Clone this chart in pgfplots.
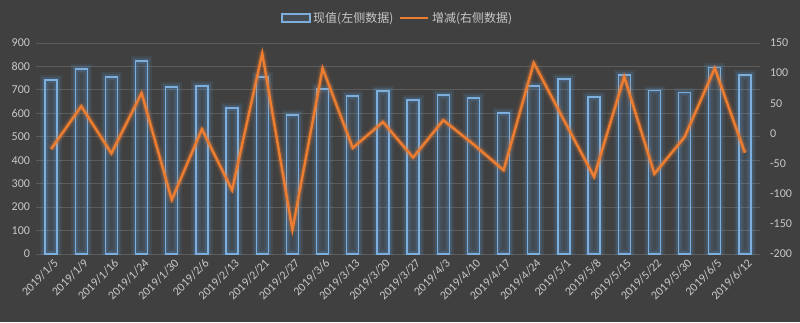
\documentclass[border=0pt]{standalone}
\usepackage{pgfplots}
\pgfplotsset{compat=1.18}
\usepackage{fontspec}
\setmainfont{Carlito}
\newfontfamily\cjk{Noto Sans CJK SC}
\definecolor{bg}{HTML}{404040}
\definecolor{txt}{HTML}{C8C8C8}
\definecolor{gridc}{HTML}{5C5C5C}
\definecolor{barc}{HTML}{5B9BD5}
\definecolor{linec}{HTML}{ED7D31}
\begin{document}
\begin{tikzpicture}
\fill[bg] (0,0) rectangle (600pt,241.5pt);
\pgfplotsset{
  common/.style={
    scale only axis, width=543pt, height=158.25pt,
    at={(27pt,51pt)}, anchor=south west,
    xmin=-0.5, xmax=23.5,
    axis line style={draw=none},
    major tick length=0pt,
    tick label style={font=\fontsize{9pt}{10pt}\selectfont, text=txt},
    /pgf/number format/assume math mode=true,
  }
}
\begin{axis}[common,
  ymin=0, ymax=900, ytick={0,100,...,900},
  ymajorgrids, grid style={gridc, line width=0.6pt},
  xtick={0,...,23},
  xticklabels={2019/1/5,2019/1/9,2019/1/16,2019/1/24,2019/1/30,2019/2/6,2019/2/13,2019/2/21,2019/2/27,2019/3/6,2019/3/13,2019/3/20,2019/3/27,2019/4/3,2019/4/10,2019/4/17,2019/4/24,2019/5/1,2019/5/8,2019/5/15,2019/5/22,2019/5/30,2019/6/5,2019/6/12},
  xticklabel style={rotate=45, anchor=north east, inner sep=1pt, yshift=-2pt},
  yticklabel style={xshift=-1pt},
]
\pgfplotstableread{
x v
0 742
1 789
2 755
3 823
4 712
5 717
6 623
7 755
8 593
9 704
10 674
11 695
12 657
13 678
14 666
15 602
16 717
17 747
18 670
19 764
20 697
21 688
22 796
23 764
}\bars
\addplot[ybar, bar width=9pt, bar shift=0pt, draw=barc, draw opacity=0.10, line width=7pt, fill=none] table[x=x,y=v]{\bars};
\addplot[ybar, bar width=9pt, bar shift=0pt, draw=barc, draw opacity=0.18, line width=4pt, fill=none] table[x=x,y=v]{\bars};
\addplot[ybar, bar width=9pt, bar shift=0pt, draw=barc!80!white, line width=1.1pt, fill=barc, fill opacity=0.10] table[x=x,y=v]{\bars};
\end{axis}
\begin{axis}[common,
  ymin=-200, ymax=150, ytick={-200,-150,...,150},
  axis y line*=right,
  xtick=\empty,
  yticklabel style={xshift=4pt},
  legend style={at={(0.5,1)}, anchor=center, yshift=18.75pt, draw=none, fill=none,
    text=txt, font=\cjk\fontsize{9pt}{10pt}\selectfont, legend columns=2,
    /tikz/every even column/.append style={column sep=2pt}, inner sep=0pt},
  legend cell align=left,
]
\addlegendimage{legend image code/.code={\draw[draw=barc!80!white, line width=1pt, fill=barc, fill opacity=0.15] (0pt,-3pt) rectangle (21pt,3pt);}}
\addlegendentry{现值(左侧数据)}
\addlegendimage{legend image code/.code={\draw[linec, line width=2pt] (0pt,0pt) -- (21pt,0pt);}}
\addlegendentry{增减(右侧数据)}
\pgfplotstableread{
x d
0 -26
1 45
2 -33
3 67
4 -110
5 7
6 -94
7 133
8 -160
9 108
10 -24
11 19
12 -40
13 22
14 -18
15 -61
16 117
17 22
18 -72
19 94
20 -67
21 -6
22 108
23 -32
}\delta
\addplot[linec, line width=6pt, opacity=0.12, line join=round, forget plot] table[x=x,y=d]{\delta};
\addplot[linec, line width=3.5pt, opacity=0.25, line join=round, forget plot] table[x=x,y=d]{\delta};
\addplot[linec, line width=1.8pt, line join=miter, forget plot] table[x=x,y=d]{\delta};
\end{axis}
\pgfresetboundingbox
\useasboundingbox (0,0) rectangle (600pt,241.5pt);
\end{tikzpicture}
\end{document}
